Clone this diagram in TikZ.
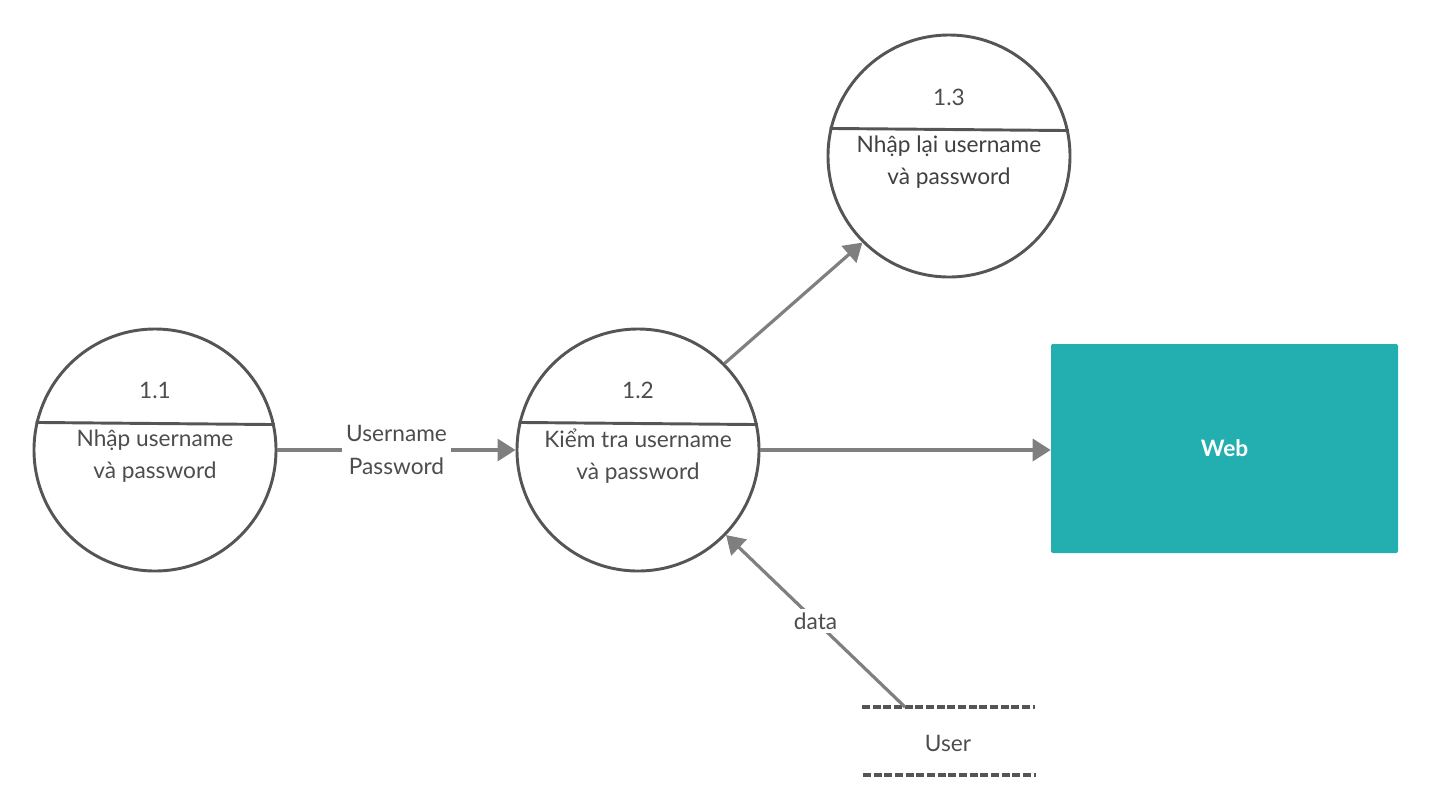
\documentclass[tikz,border=0pt]{standalone}
\usepackage{fontspec}
\setmainfont{Lato}
\usetikzlibrary{arrows.meta}
\definecolor{lineg}{HTML}{555555}
\definecolor{arrg}{HTML}{7F7F7F}
\definecolor{txtg}{HTML}{4D4D4D}
\definecolor{webteal}{HTML}{23AFAF}
\tikzset{
  proc/.style={circle, draw=lineg, line width=2.2pt, minimum size=181.5pt, inner sep=0pt, fill=white},
  chord/.style={draw=lineg, line width=2.2pt},
  txt/.style={text=txtg, font=\fontsize{17}{24.5}\selectfont, align=center, inner sep=0pt},
  flow/.style={draw=arrg, line width=2.4pt, -{Triangle[length=13.5pt,width=16.5pt]}},
  flab/.style={txt, fill=white, inner sep=3pt},
  store/.style={draw=lineg, line width=2.6pt, dash pattern=on 6pt off 2pt},
}
\begin{document}
\begin{tikzpicture}[x=0.75pt,y=-0.75pt]
\useasboundingbox (0,0) rectangle (1432,811);

% processes
\node[proc] (c11) at (155,450) {};
\node[proc] (c12) at (638,450) {};
\node[proc] (c13) at (949,156) {};
\draw[chord] (c11.167.6) -- (c11.12.4);
\draw[chord] (c12.167.6) -- (c12.12.4);
\draw[chord] (c13.167.6) -- (c13.12.4);

\node[txt] (n11) at (155,390) {1.1};
\node[txt] (d11) at (155,456) {Nhập username\\và password};
\node[txt] (n12) at (638,390) {1.2};
\node[txt] (d12) at (638,456) {Kiểm tra username\\và password};
\node[txt] (n13) at (949,97) {1.3};
\node[txt, text=black!75] (d13) at (949,162) {Nhập lại username\\và password};

% web entity
\node[rectangle, fill=webteal, rounded corners=1.5pt, minimum width=260.25pt, minimum height=156.75pt,
      text=white, font=\fontsize{17}{20}\selectfont\bfseries] (web) at (1224.5,448.5) {Web};

% user data store
\coordinate (s1a) at (862,707);
\coordinate (s1b) at (1035,707);
\coordinate (s2a) at (863,775);
\coordinate (s2b) at (1036,775);
\draw[store] (s1a) -- (s1b);
\draw[store] (s2a) -- (s2b);
\node[txt] (user) at (948,743) {User};
\coordinate (ust) at (905,707);

% flows
\draw[flow] (c11.east) -- node[flab] (lup) {Username\\Password} (c12.west);
\draw[flow] (c12.east) -- (c12.east -| web.west);
\draw[flow] (c12.45) -- (c13.-135);
\draw[flow] (ust) -- node[flab, pos=0.5] (ldata) {data} (c12.-44);
\end{tikzpicture}
\end{document}
